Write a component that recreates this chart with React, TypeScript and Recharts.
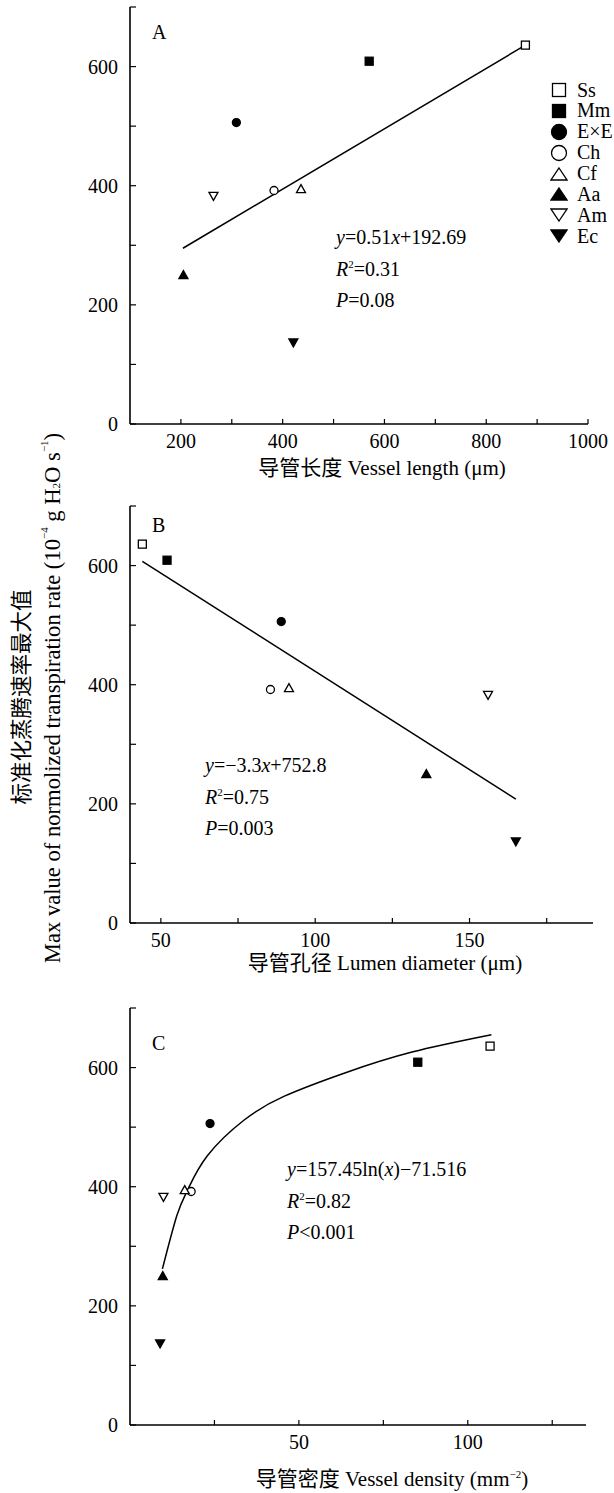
import React from 'react';
import { ScatterChart, Scatter, XAxis, YAxis, Legend } from 'recharts';

// species order used by every panel
const species = ['Ss', 'Mm', 'E×E', 'Ch', 'Cf', 'Aa', 'Am', 'Ec'];
// max normalized transpiration rate (10^-4 g H2O s^-1)
const maxRate = [636, 609, 506, 392, 395, 251, 382, 136];
const vesselLength = [877, 570, 309, 383, 436, 205, 264, 421];
const lumenDiameter = [44, 52, 89, 85.5, 91.5, 136, 156, 165];
const vesselDensity = [106.6, 85.2, 23.7, 18.1, 16.2, 9.7, 9.9, 8.9];

// fitted lines as drawn in the figure
const lengthFitX = [204, 877];
const lengthFitY = [295, 636];
const lumenFitX = [44, 165];
const lumenFitY = [607, 208];
const densityFitX = [9.6, 13.9, 17.1, 22.9, 33.8, 45.7, 63.6, 83.5, 107];
const densityFitY = [262, 352, 395, 452, 512, 552, 591, 626, 655];

const rateTicks = [0, 100, 200, 300, 400, 500, 600, 700];
const rateLabels = [0, 200, 400, 600];
const lengthTicks = [200, 300, 400, 500, 600, 700, 800, 900, 1000];
const lengthLabels = [200, 400, 600, 800, 1000];
const lumenTicks = [50, 75, 100, 125, 150, 175];
const lumenLabels = [50, 100, 150];
const densityTicks = [25, 50, 75, 100, 125];
const densityLabels = [50, 100];

const markerOf: Record<string, string> = {
  Ss: 'square-open',
  Mm: 'square',
  'E×E': 'circle',
  Ch: 'circle-open',
  Cf: 'up-open',
  Aa: 'up',
  Am: 'down-open',
  Ec: 'down',
};

const FONT = '"Liberation Serif", "Times New Roman", "Noto Sans CJK SC", serif';

const Marker = ({ cx, cy, kind, w, h }: { cx: number; cy: number; kind: string; w: number; h: number }) => {
  const filled = !kind.endsWith('open');
  const fill = filled ? '#000' : '#fff';
  const common = { fill, stroke: '#000', strokeWidth: 1.3 };
  if (kind.startsWith('square')) {
    return <rect x={cx - w / 2} y={cy - h / 2} width={w} height={h} {...common} />;
  }
  if (kind.startsWith('circle')) {
    return <ellipse cx={cx} cy={cy} rx={w / 2} ry={h / 2} {...common} />;
  }
  if (kind.startsWith('up')) {
    return <polygon points={`${cx},${cy - h / 2} ${cx + w / 2},${cy + h / 2} ${cx - w / 2},${cy + h / 2}`} {...common} />;
  }
  return <polygon points={`${cx},${cy + h / 2} ${cx + w / 2},${cy - h / 2} ${cx - w / 2},${cy - h / 2}`} {...common} />;
};

const pointShape = (p: any) => {
  const kind = p.payload.kind;
  const tri = kind.startsWith('up') || kind.startsWith('down');
  return <Marker cx={p.cx} cy={p.cy} kind={kind} w={tri ? 9 : 8} h={8} />;
};

const noShape = () => <g />;

const makePoints = (xs: number[]) =>
  xs.map((x, i) => ({ x, y: maxRate[i], kind: markerOf[species[i]] }));

const makeLine = (xs: number[], ys: number[]) => xs.map((x, i) => ({ x, y: ys[i] }));

const tickStyle = { fill: '#000', fontSize: 20, fontFamily: FONT };
const axisLine = { stroke: '#000', strokeWidth: 1.6 };
const tickLine = { stroke: '#000', strokeWidth: 1.2 };

const LegendBox = () => (
  <div style={{ fontFamily: FONT, fontSize: 20, color: '#000' }}>
    {species.map((s) => {
      const kind = markerOf[s];
      const tri = kind.startsWith('up') || kind.startsWith('down');
      const circ = kind.startsWith('circle');
      return (
        <div key={s} style={{ display: 'flex', alignItems: 'center', height: 20.9, lineHeight: '20.9px' }}>
          <svg width={18} height={18} style={{ display: 'block' }}>
            <Marker cx={9} cy={9} kind={kind} w={tri ? 16 : circ ? 15 : 13} h={tri ? 12 : circ ? 15 : 13} />
          </svg>
          <span style={{ marginLeft: 9 }}>{s}</span>
        </div>
      );
    })}
  </div>
);

interface IPanel {
  top: number;
  height: number;
  marginTop: number;
  marginRight: number;
  xs: number[];
  domain: [number, number];
  ticks: number[];
  labels: number[];
  fitX: number[];
  fitY: number[];
  curved?: boolean;
  legend?: boolean;
}

const Panel = ({ top, height, marginTop, marginRight, xs, domain, ticks, labels, fitX, fitY, curved, legend }: IPanel) => (
  <div style={{ position: 'absolute', left: 0, top }}>
    <ScatterChart width={614} height={height} margin={{ top: marginTop, right: marginRight, bottom: 0, left: 0 }}>
      <XAxis
        type="number"
        dataKey="x"
        domain={domain}
        ticks={ticks}
        interval={0}
        allowDataOverflow
        tickFormatter={(v: number) => (labels.includes(v) ? String(v) : '')}
        height={40}
        axisLine={axisLine}
        tickLine={tickLine}
        tickSize={-5}
        tickMargin={15}
        tick={tickStyle}
      />
      <YAxis
        type="number"
        dataKey="y"
        domain={[0, 700]}
        ticks={rateTicks}
        interval={0}
        allowDataOverflow
        tickFormatter={(v: number) => (rateLabels.includes(v) ? String(v) : '')}
        width={130}
        axisLine={axisLine}
        tickLine={tickLine}
        tickSize={-6}
        tickMargin={18}
        tick={tickStyle}
      />
      <Scatter
        data={makeLine(fitX, fitY)}
        line={{ stroke: '#000', strokeWidth: 1.5 }}
        lineJointType={curved ? 'natural' : 'linear'}
        shape={noShape}
        isAnimationActive={false}
      />
      <Scatter data={makePoints(xs)} shape={pointShape} isAnimationActive={false} />
      {legend && (
        <Legend
          layout="vertical"
          align="center"
          verticalAlign="middle"
          content={LegendBox}
          wrapperStyle={{ position: 'absolute', left: 550, top: 79.5, width: 64, height: 170 }}
        />
      )}
    </ScatterChart>
  </div>
);

const sup = { fontSize: 11 };

const Equation = ({ x, y, lines }: { x: number; y: number; lines: React.ReactNode[] }) => (
  <g>
    {lines.map((l, i) => (
      <text key={i} x={x} y={y + i * 31.5} fontSize={20} fontFamily={FONT} fill="#000">
        {l}
      </text>
    ))}
  </g>
);

const Annotations = () => (
  <svg
    width={614}
    height={1493}
    style={{ position: 'absolute', left: 0, top: 0, pointerEvents: 'none' }}
  >
    <g fontFamily={FONT} fill="#000">
      <text x={152} y={39} fontSize={20}>A</text>
      <text x={152} y={532} fontSize={20}>B</text>
      <text x={152} y={1050} fontSize={20}>C</text>

      <text x={382} y={475} fontSize={21} textAnchor="middle">导管长度 Vessel length (μm)</text>
      <text x={385} y={970} fontSize={21} textAnchor="middle">导管孔径 Lumen diameter (μm)</text>
      <text x={392} y={1486} fontSize={21} textAnchor="middle">
        导管密度 Vessel density (mm<tspan dy={-8} style={sup}>−2</tspan><tspan dy={8}>)</tspan>
      </text>

      <text x={22} y={697} fontSize={21.5} textAnchor="middle" dominantBaseline="central" transform="rotate(-90 22 697)">
        标准化蒸腾速率最大值
      </text>
      <text x={52} y={698} fontSize={22.6} textAnchor="middle" dominantBaseline="central" transform="rotate(-90 52 698)">
        Max value of normolized transpiration rate (10<tspan dy={-8} style={sup}>−4</tspan>
        <tspan dy={8}> g H</tspan>
        <tspan dy={4} style={sup}>2</tspan>
        <tspan dy={-4}>O s</tspan>
        <tspan dy={-8} style={sup}>−1</tspan>
        <tspan dy={8}>)</tspan>
      </text>
    </g>

    <Equation
      x={336}
      y={244}
      lines={[
        <><tspan fontStyle="italic">y</tspan>=0.51<tspan fontStyle="italic">x</tspan>+192.69</>,
        <><tspan fontStyle="italic">R</tspan><tspan dy={-8} style={sup}>2</tspan><tspan dy={8}>=0.31</tspan></>,
        <><tspan fontStyle="italic">P</tspan>=0.08</>,
      ]}
    />
    <Equation
      x={205}
      y={772}
      lines={[
        <><tspan fontStyle="italic">y</tspan>=−3.3<tspan fontStyle="italic">x</tspan>+752.8</>,
        <><tspan fontStyle="italic">R</tspan><tspan dy={-8} style={sup}>2</tspan><tspan dy={8}>=0.75</tspan></>,
        <><tspan fontStyle="italic">P</tspan>=0.003</>,
      ]}
    />
    <Equation
      x={287}
      y={1176}
      lines={[
        <><tspan fontStyle="italic">y</tspan>=157.45ln(<tspan fontStyle="italic">x</tspan>)−71.516</>,
        <><tspan fontStyle="italic">R</tspan><tspan dy={-8} style={sup}>2</tspan><tspan dy={8}>=0.82</tspan></>,
        <><tspan fontStyle="italic">P</tspan>&lt;0.001</>,
      ]}
    />
  </svg>
);

export default function App() {
  return (
    <div style={{ position: 'absolute', left: 0, top: 0, width: 614, height: 1493, background: '#fff', overflow: 'hidden' }}>
      <Panel
        top={0}
        height={464}
        marginTop={7}
        marginRight={26}
        xs={vesselLength}
        domain={[100, 1000]}
        ticks={lengthTicks}
        labels={lengthLabels}
        fitX={lengthFitX}
        fitY={lengthFitY}
        legend
      />
      <Panel
        top={480}
        height={483}
        marginTop={26}
        marginRight={21}
        xs={lumenDiameter}
        domain={[40, 190]}
        ticks={lumenTicks}
        labels={lumenLabels}
        fitX={lumenFitX}
        fitY={lumenFitY}
      />
      <Panel
        top={990}
        height={475}
        marginTop={18}
        marginRight={28}
        xs={vesselDensity}
        domain={[0, 135]}
        ticks={densityTicks}
        labels={densityLabels}
        fitX={densityFitX}
        fitY={densityFitY}
        curved
      />
      <Annotations />
    </div>
  );
}
